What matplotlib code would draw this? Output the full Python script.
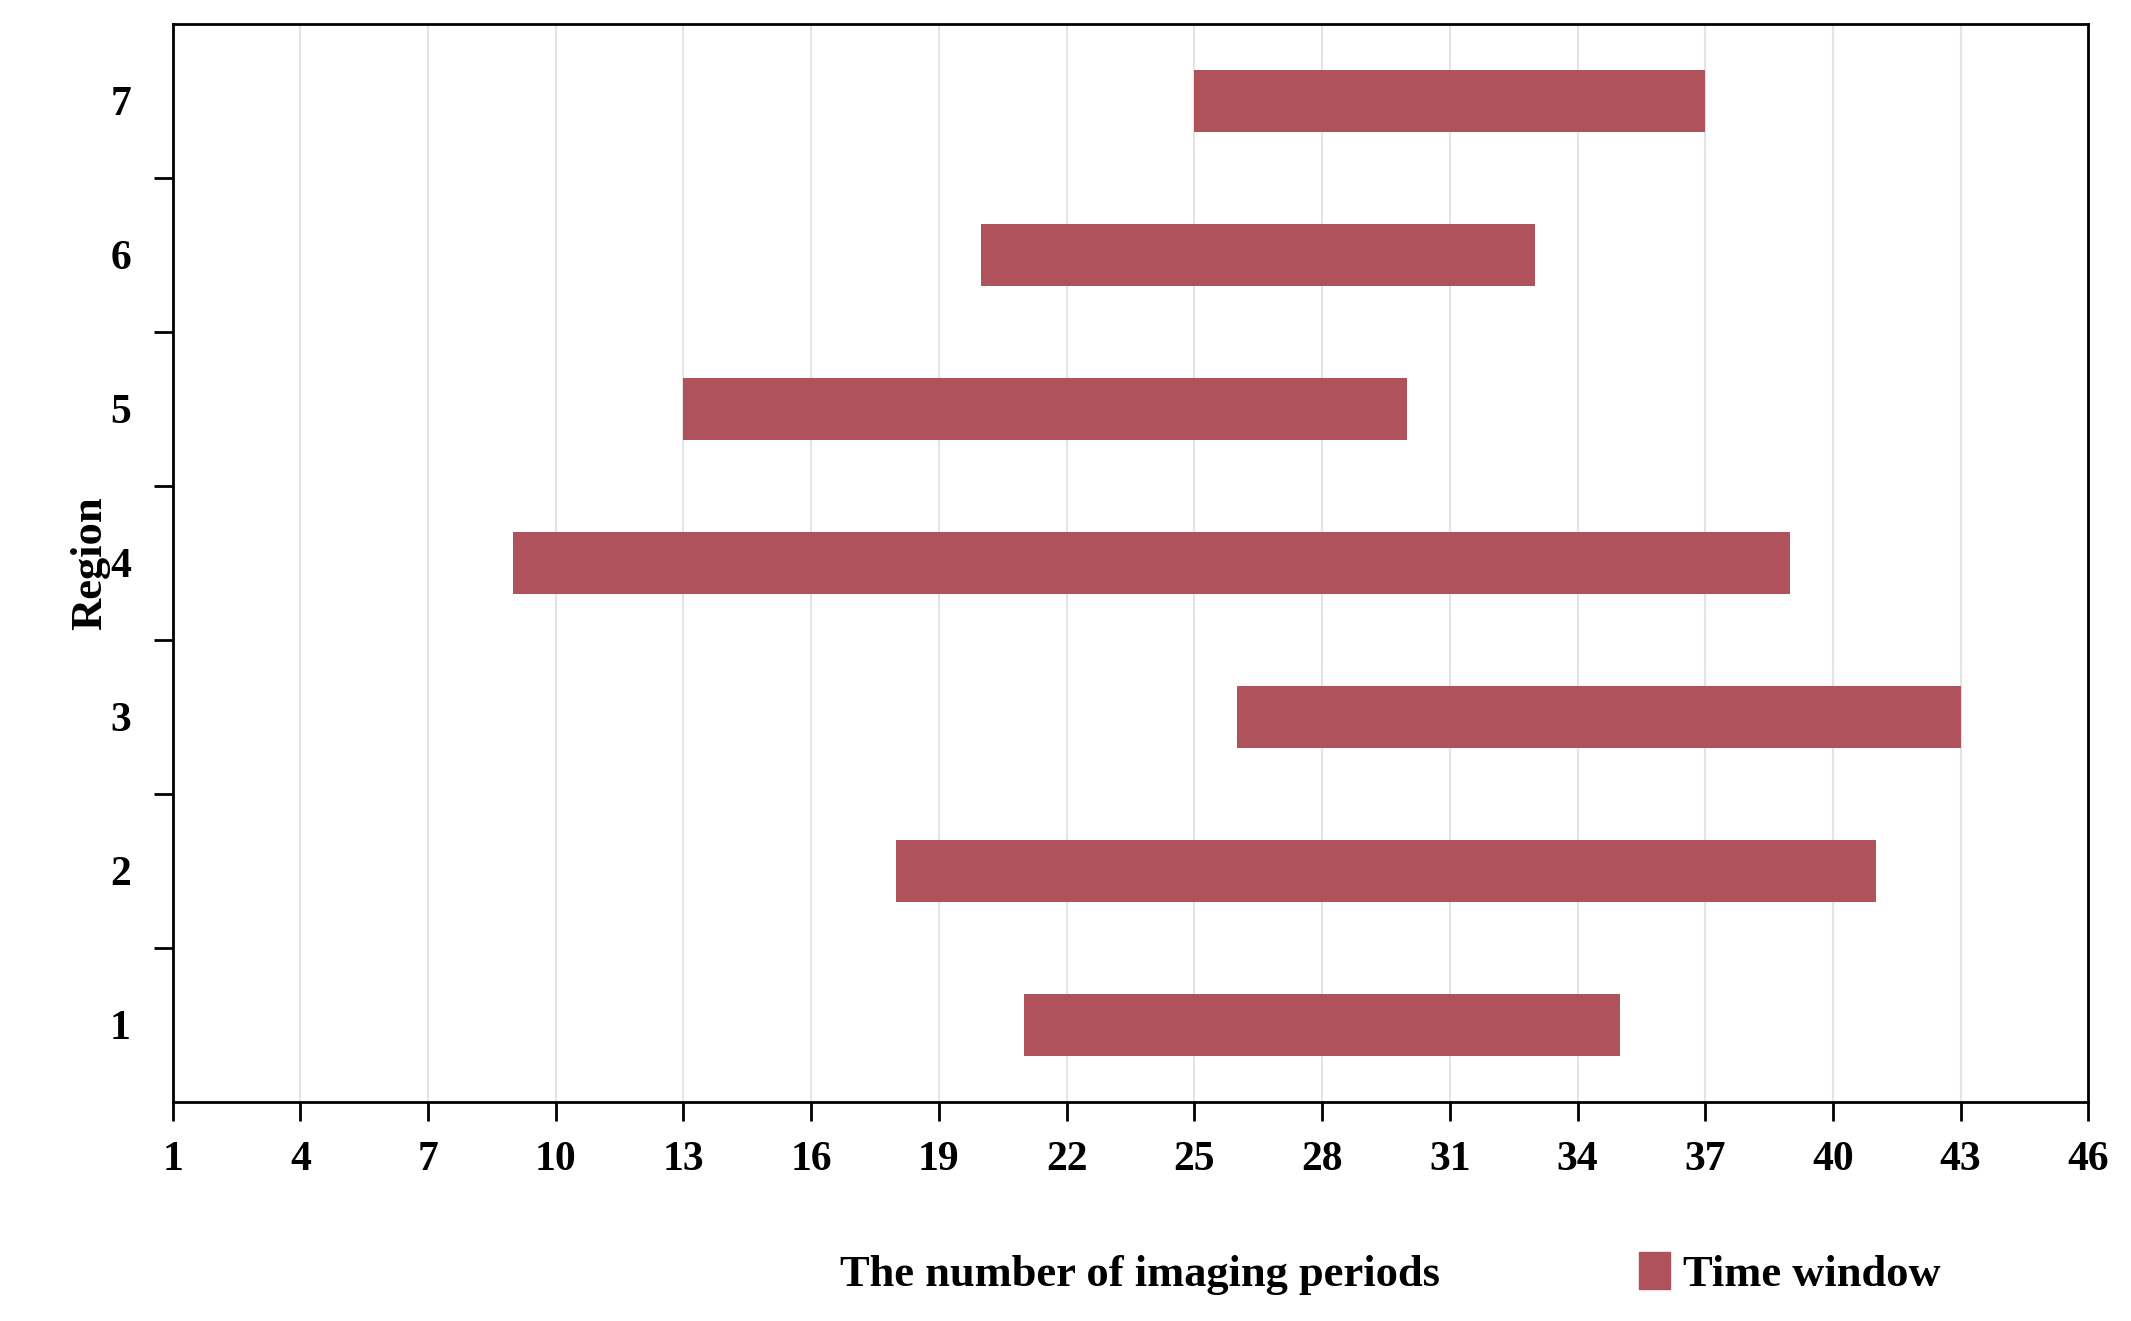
import numpy as np
from matplotlib import pyplot as plt
import matplotlib.patches as mpatches

plt.rcParams['font.family'] = ['Liberation Serif', 'DejaVu Serif']
plt.rcParams['font.weight'] = 'bold'

regions = [1, 2, 3, 4, 5, 6, 7]
starts = [21, 18, 26, 9, 13, 20, 25]
ends = [35, 41, 43, 39, 30, 33, 37]
xticks = list(range(1, 47, 3))

fig = plt.figure(figsize=(21.31, 13.21), dpi=100)
ax = fig.add_axes([0.081, 0.166, 0.899, 0.816])

widths = [e - s for s, e in zip(starts, ends)]
ax.barh(regions, widths, left=starts, height=0.4, color='#B0525C', zorder=3)

ax.set_xlim(1, 46)
ax.set_ylim(0.5, 7.5)
ax.set_xticks(xticks)
ax.set_yticks(regions)
ax.set_yticks(np.arange(1.5, 7.5, 1), minor=True)
ax.tick_params(axis='y', which='major', length=0, labelsize=30, pad=30)
ax.tick_params(axis='y', which='minor', length=14, width=2)
ax.tick_params(axis='x', length=14, width=2, labelsize=30, pad=14)
ax.grid(axis='x', color='#e4e4e4', linewidth=1.5, zorder=0)
for s in ax.spines.values():
    s.set_linewidth(2)

ax.set_ylabel('Region', fontsize=32, fontweight='bold', labelpad=0)
fig.text(0.535, 0.035, 'The number of imaging periods', fontsize=32,
         fontweight='bold', ha='center', va='center')
handle = mpatches.Patch(color='#B0525C', label='Time window')
fig.legend(handles=[handle], loc='center', bbox_to_anchor=(0.84, 0.036),
           frameon=False, fontsize=32, handlelength=0.7, handleheight=0.9,
           handletextpad=0.3)

fig.savefig('out.png', dpi=100)
